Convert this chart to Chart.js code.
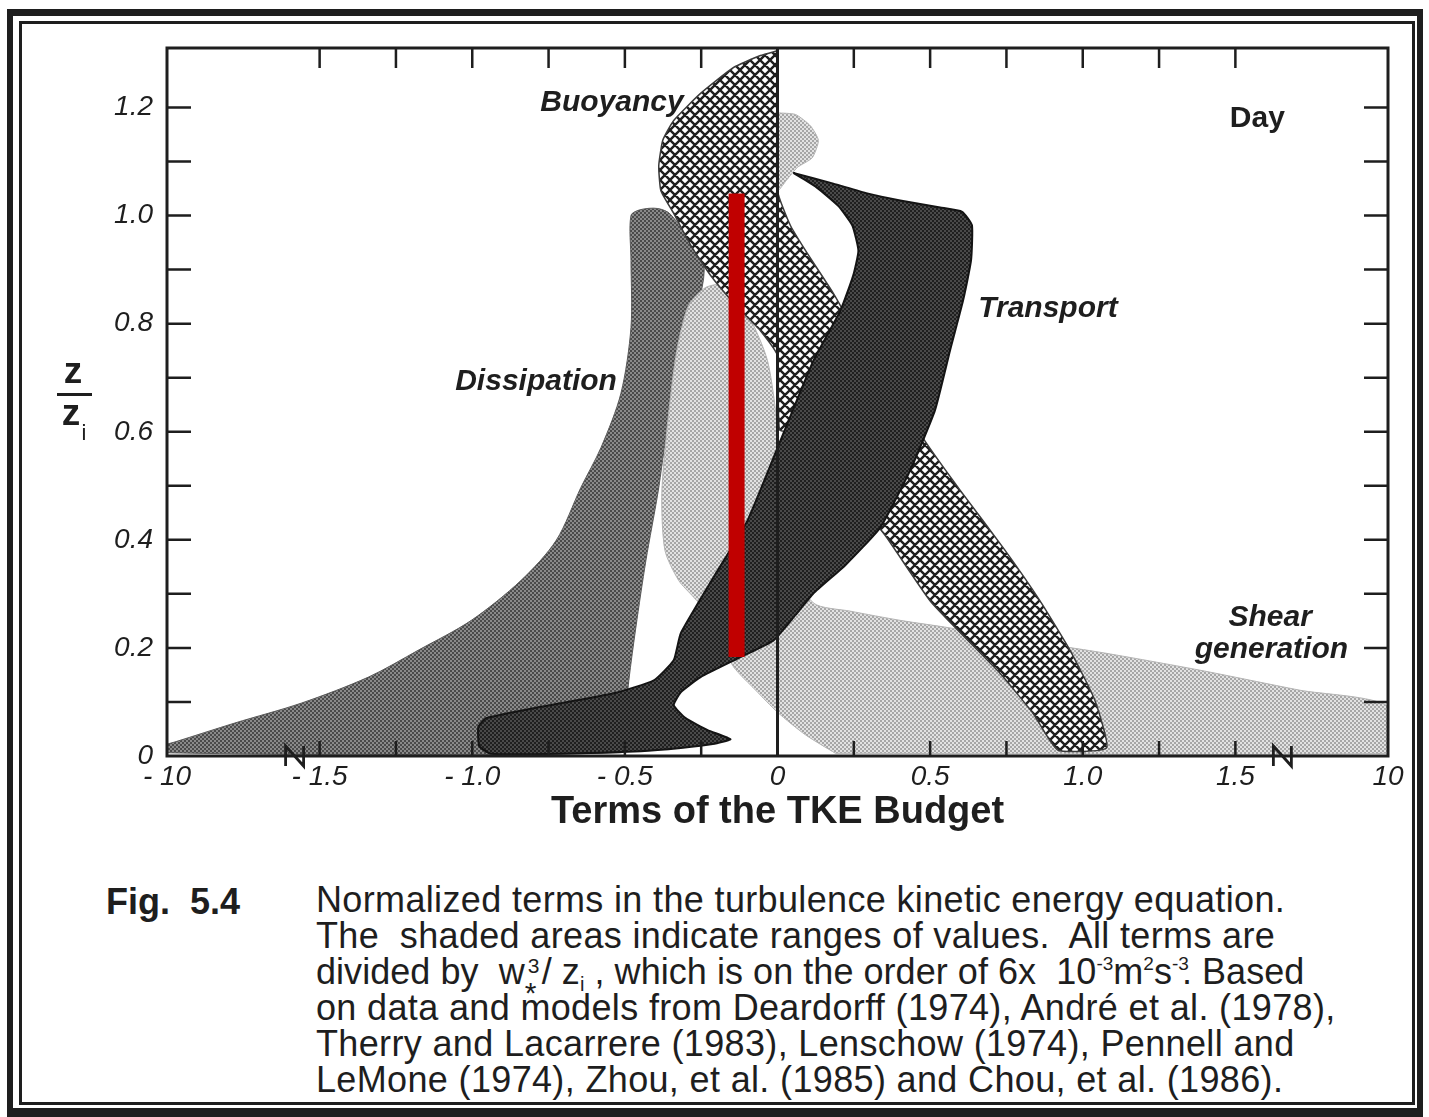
<!DOCTYPE html>
<html>
<head>
<meta charset="utf-8">
<title>Terms of the TKE Budget</title>
<script src="https://cdn.jsdelivr.net/npm/chart.js@4.4.1/dist/chart.umd.min.js"></script>
<style>
  body { margin: 0; background: #fff; }
  #page { position: relative; width: 1429px; height: 1117px; overflow: hidden; background: #fff;
          font-family: "Liberation Sans", Arial, Helvetica, sans-serif; color: #1e1e1e; }
  .frame { position: absolute; box-sizing: border-box; border-style: solid; border-color: #1e1e1e; }
  #outer { left: 7px; top: 9px; width: 1416px; height: 1108px; border-width: 7px 6px 9px 6px; }
  #inner { left: 19px; top: 21px; width: 1396px; height: 1084px; border-width: 3px; }
  #chart { position: absolute; left: 0; top: 0; }
  #figno { position: absolute; left: 106px; top: 884px; font-size: 36px; line-height: 36px;
           font-weight: bold; white-space: pre; }
  #caption { position: absolute; left: 316px; top: 882px; font-size: 36px; line-height: 36px;
             letter-spacing: 0.35px; }
  #caption div { white-space: nowrap; height: 36px; }
  #caption div.tight { letter-spacing: 0.05px; }
  .up { font-size: 19px; line-height: 0; position: relative; top: -14px; letter-spacing: 0; }
  .sub { font-size: 20px; line-height: 0; position: relative; top: 7px; }
  .stk { position: relative; display: inline-block; width: 17px; height: 1px; }
  .stk .s3 { position: absolute; left: 3px; top: -28px; font-size: 21px; line-height: 22px; }
  .stk .st { position: absolute; left: 0; top: -5px; font-size: 30px; line-height: 30px; }
  .tuck { margin-left: -7px; }
</style>
</head>
<body>
<div id="page">
  <div id="outer" class="frame"></div>
  <div id="inner" class="frame"></div>
  <canvas id="chart" width="1429" height="860"></canvas>
  <div id="figno">Fig.  5.4</div>
  <div id="caption">
    <div>Normalized terms in the turbulence kinetic energy equation.</div>
    <div>The&nbsp; shaded areas indicate ranges of values.&nbsp; All terms are</div>
    <div class="tight">divided by&nbsp; w<span class="stk"><span class="s3">3</span><span class="st">*</span></span>/ z<span class="sub">i</span> , which is on the order of 6x&nbsp; 10<span class="up">-3</span>m<span class="up">2</span>s<span class="up">-3</span><span class="tuck">.</span> Based</div>
    <div>on data and models from Deardorff (1974), André et al. (1978),</div>
    <div>Therry and Lacarrere (1983), Lenschow (1974), Pennell and</div>
    <div>LeMone (1974), Zhou, et al. (1985) and Chou, et al. (1986).</div>
  </div>
</div>
<script>
// axis ticks (the outer ends of the x axis are the broken -10 / 10 positions)
const X_TICK_VALUES = [-2, -1.5, -1, -0.5, 0, 0.5, 1, 1.5, 2];
const X_TICK_LABELS = ['- 10', '- 1.5', '- 1.0', '- 0.5', '0', '0.5', '1.0', '1.5', '10'];
const Z_TICK_VALUES = [0, 0.2, 0.4, 0.6, 0.8, 1.0, 1.2];
const Z_TICK_LABELS = ['0', '0.2', '0.4', '0.6', '0.8', '1.0', '1.2'];
const X_MINOR = [-1.5, -1.25, -1, -0.75, -0.5, -0.25, 0.25, 0.5, 0.75, 1, 1.25, 1.5];
const Z_MINOR = [0.1, 0.2, 0.3, 0.4, 0.5, 0.6, 0.7, 0.8, 0.9, 1.0, 1.1, 1.2];
const AXIS_BREAKS = [-1.582, 1.654];

// outlines of the shaded ranges, x = normalized term, z = z/zi
const DISSIPATION_X = [-2.0, -1.974, -1.778, -1.559, -1.340, -1.176, -1.003, -0.840, -0.725, -0.644, -0.578, -0.513,
  -0.480, -0.480, -0.480, -0.448, -0.392, -0.350, -0.242, -0.284, -0.359, -0.392, -0.431, -0.464, -0.487, -0.500,
  -0.513, -2.0, -2.0];
const DISSIPATION_Z = [0.022, 0.026, 0.061, 0.098, 0.146, 0.196, 0.251, 0.325, 0.399, 0.497, 0.571, 0.671,
  0.793, 0.917, 1.000, 1.011, 1.013, 1.002, 0.913, 0.787, 0.608, 0.486, 0.362, 0.238, 0.140, 0.067,
  0.006, 0.006, 0.022];

const SHEAR_X = [0.190, 2.0, 2.0, 1.709, 1.382, 1.056, 0.729, 0.565, 0.402, 0.239, 0.118, 0.042, 0.010, 0.0,
  -0.033, -0.095, -0.170, -0.235, -0.291, -0.330, -0.359, -0.379, -0.369, -0.324, -0.275, -0.229, -0.186, -0.144,
  -0.072, 0.0, 0.092, 0.190];
const SHEAR_Z = [0.005, 0.005, 0.092, 0.122, 0.159, 0.192, 0.220, 0.237, 0.251, 0.268, 0.283, 0.362, 0.510, 0.608,
  0.732, 0.815, 0.871, 0.867, 0.834, 0.750, 0.621, 0.486, 0.381, 0.325, 0.294, 0.264, 0.214, 0.165,
  0.122, 0.081, 0.039, 0.005];

const SHEAR_TOP_X = [0, 0.059, 0.108, 0.134, 0.114, 0.065, 0.029, 0, 0];
const SHEAR_TOP_Z = [1.190, 1.187, 1.166, 1.139, 1.107, 1.089, 1.065, 1.046, 1.190];

const BUOYANCY_X = [0, 0, 0.042, 0.092, 0.183, 0.271, 0.353, 0.490, 0.598, 0.745, 0.859, 0.958, 1.039, 1.078,
  0.918, 0.837, 0.729, 0.503, 0.353, 0.206, 0.075, 0.007, 0, -0.056, -0.137, -0.219, -0.284, -0.340, -0.382,
  -0.389, -0.376, -0.340, -0.252, -0.144, -0.056, 0];
const BUOYANCY_Z = [1.305, 1.046, 0.982, 0.935, 0.856, 0.769, 0.695, 0.577, 0.492, 0.381, 0.288, 0.196, 0.104, 0.015,
  0.011, 0.079, 0.153, 0.285, 0.408, 0.510, 0.599, 0.603, 0.741, 0.787, 0.834, 0.889, 0.945, 1.004, 1.046,
  1.092, 1.139, 1.176, 1.226, 1.274, 1.296, 1.305];

const TRANSPORT_X = [0.052, 0.183, 0.294, 0.402, 0.533, 0.605, 0.637, 0.634, 0.608, 0.565, 0.516, 0.435, 0.337,
  0.222, 0.118, 0.059, -0.013, -0.121, -0.252, -0.317, -0.340, -0.301, -0.229, -0.154, -0.212, -0.317, -0.448,
  -0.709, -0.938, -0.977, -0.980, -0.954, -0.775, -0.536, -0.405, -0.340, -0.317, -0.209, -0.098, 0.010, 0.118,
  0.206, 0.248, 0.265, 0.245, 0.199, 0.124, 0.052];
const TRANSPORT_Z = [1.079, 1.059, 1.041, 1.028, 1.015, 1.007, 0.982, 0.917, 0.843, 0.750, 0.640, 0.529, 0.423,
  0.353, 0.301, 0.261, 0.214, 0.183, 0.146, 0.118, 0.094, 0.070, 0.048, 0.031, 0.022, 0.015, 0.009,
  0.004, 0.004, 0.018, 0.054, 0.070, 0.091, 0.116, 0.140, 0.177, 0.227, 0.331, 0.436, 0.584, 0.732,
  0.824, 0.889, 0.935, 0.982, 1.018, 1.054, 1.079];

const ZERO_X = [0, 0];
const ZERO_Z = [0, 1.31];
const MARKER_X = [-0.134, -0.134];
const MARKER_Z = [0.183, 1.041];

const INK = '#1e1e1e';
const FONT = '"Liberation Sans", Arial, Helvetica, sans-serif';

const canvas = document.getElementById('chart');
const ctx = canvas.getContext('2d');

// halftone-like fills
function stipple(light, dark) {
  const tile = document.createElement('canvas');
  tile.width = 4; tile.height = 4;
  const g = tile.getContext('2d');
  g.fillStyle = light; g.fillRect(0, 0, 4, 4);
  g.fillStyle = dark; g.fillRect(0, 0, 2, 2); g.fillRect(2, 2, 2, 2);
  return ctx.createPattern(tile, 'repeat');
}

function crosshatch(size) {
  const tile = document.createElement('canvas');
  tile.width = size; tile.height = size;
  const g = tile.getContext('2d');
  g.fillStyle = '#ffffff'; g.fillRect(0, 0, size, size);
  g.strokeStyle = INK; g.lineWidth = 2.4;
  g.beginPath();
  for (const k of [-size, 0, size]) {
    g.moveTo(k, 0); g.lineTo(k + size, size);
    g.moveTo(k + size, 0); g.lineTo(k, size);
  }
  g.stroke();
  return ctx.createPattern(tile, 'repeat');
}

const toPoints = (xs, zs) => xs.map((x, i) => ({ x, y: zs[i] }));

function region(label, xs, zs, fill, border, width, order, tension) {
  return {
    label, data: toPoints(xs, zs), backgroundColor: fill, borderColor: border, borderWidth: width,
    fill: 'shape', pointRadius: 0, tension, order
  };
}

// in-plot term names
const TERM_LABELS = [
  { text: 'Buoyancy', x: -0.542, z: 1.209, italic: true },
  { text: 'Day', x: 1.572, z: 1.179, italic: false },
  { text: 'Transport', x: 0.886, z: 0.828, italic: true },
  { text: 'Dissipation', x: -0.791, z: 0.693, italic: true },
  { text: 'Shear', x: 1.614, z: 0.255, italic: true },
  { text: 'generation', x: 1.618, z: 0.196, italic: true }
];

const decor = {
  id: 'tkeDecor',
  afterDatasetsDraw(chart) {
    const { ctx: c, chartArea: a, scales: { x, y } } = chart;
    c.save();
    c.strokeStyle = INK;
    c.lineWidth = 3;
    c.strokeRect(a.left, a.top, a.right - a.left, a.bottom - a.top);

    // ticks point into the frame
    c.lineWidth = 2.5;
    c.beginPath();
    Z_MINOR.forEach(v => {
      const py = y.getPixelForValue(v);
      c.moveTo(a.left, py); c.lineTo(a.left + 24, py);
      c.moveTo(a.right, py); c.lineTo(a.right - 24, py);
    });
    X_MINOR.forEach(v => {
      const px = x.getPixelForValue(v);
      c.moveTo(px, a.top); c.lineTo(px, a.top + 20);
      c.moveTo(px, a.bottom); c.lineTo(px, a.bottom - 15);
    });
    c.stroke();

    // axis break marks
    c.lineWidth = 2.8;
    c.beginPath();
    AXIS_BREAKS.forEach(v => {
      const px = x.getPixelForValue(v);
      c.moveTo(px - 9, a.bottom + 10); c.lineTo(px - 9, a.bottom - 10);
      c.lineTo(px + 9, a.bottom + 10); c.lineTo(px + 9, a.bottom - 10);
    });
    c.stroke();

    c.fillStyle = INK;
    c.textAlign = 'center';
    c.textBaseline = 'middle';
    TERM_LABELS.forEach(t => {
      c.font = (t.italic ? 'italic ' : '') + 'bold 30px ' + FONT;
      c.fillText(t.text, x.getPixelForValue(t.x), y.getPixelForValue(t.z));
    });

    // axis titles
    c.font = 'bold 38px ' + FONT;
    c.fillText('Terms of the TKE Budget', x.getPixelForValue(0), a.bottom + 57);

    const tx = a.left - 94;
    const ty = y.getPixelForValue(0.669);
    c.textBaseline = 'alphabetic';
    c.font = 'bold 37px ' + FONT;
    c.fillText('z', tx, ty - 11);
    c.fillText('z', tx - 2, ty + 31);
    c.font = '22px ' + FONT;
    c.fillText('i', tx + 11, ty + 46);
    c.lineWidth = 3;
    c.beginPath();
    c.moveTo(tx - 16, ty); c.lineTo(tx + 19, ty);
    c.stroke();
    c.restore();
  }
};

Chart.defaults.font.family = FONT;

new Chart(ctx, {
  type: 'line',
  data: {
    datasets: [
      region('Dissipation', DISSIPATION_X, DISSIPATION_Z, stipple('#8a8a8a', '#4a4a4a'), '#5a5a5a', 1, 6, 0.3),
      region('Shear generation', SHEAR_X, SHEAR_Z, stipple('#e2e2e2', '#a6a6a6'), '#b4b4b4', 1, 5, 0.25),
      region('Shear generation (top)', SHEAR_TOP_X, SHEAR_TOP_Z, stipple('#e2e2e2', '#a6a6a6'), '#b4b4b4', 1, 5, 0.2),
      region('Buoyancy', BUOYANCY_X, BUOYANCY_Z, crosshatch(10), '#3a3a3a', 1.5, 4, 0.15),
      region('Transport', TRANSPORT_X, TRANSPORT_Z, stipple('#4a4a4a', '#1f1f1f'), '#141414', 2, 3, 0.15),
      { label: 'zero', data: toPoints(ZERO_X, ZERO_Z), borderColor: INK, borderWidth: 3,
        pointRadius: 0, fill: false, order: 2 },
      { label: 'marker', data: toPoints(MARKER_X, MARKER_Z), borderColor: '#c00000', borderWidth: 16,
        borderCapStyle: 'butt', pointRadius: 0, fill: false, order: 1 }
    ]
  },
  options: {
    responsive: false,
    animation: false,
    events: [],
    layout: { padding: { top: 48, right: 41, bottom: 0, left: 0 } },
    plugins: { legend: { display: false }, tooltip: { enabled: false } },
    scales: {
      x: {
        type: 'linear', min: -2, max: 2,
        grid: { display: false, drawTicks: false },
        border: { display: false },
        ticks: {
          autoSkip: false, maxRotation: 0, padding: 4, color: INK,
          font: { size: 28, style: 'italic' },
          callback: v => X_TICK_LABELS[X_TICK_VALUES.indexOf(v)] ?? ''
        },
        afterBuildTicks: s => { s.ticks = X_TICK_VALUES.map(value => ({ value })); },
        afterFit: s => { s.height = 104; }
      },
      y: {
        type: 'linear', min: 0, max: 1.31,
        grid: { display: false, drawTicks: false },
        border: { display: false },
        ticks: {
          autoSkip: false, padding: 14, color: INK,
          font: { size: 28, style: 'italic' },
          callback: v => Z_TICK_LABELS[Z_TICK_VALUES.indexOf(v)] ?? ''
        },
        afterBuildTicks: s => { s.ticks = Z_TICK_VALUES.map(value => ({ value })); },
        afterFit: s => { s.width = 167; }
      }
    }
  },
  plugins: [decor]
});
</script>
</body>
</html>
